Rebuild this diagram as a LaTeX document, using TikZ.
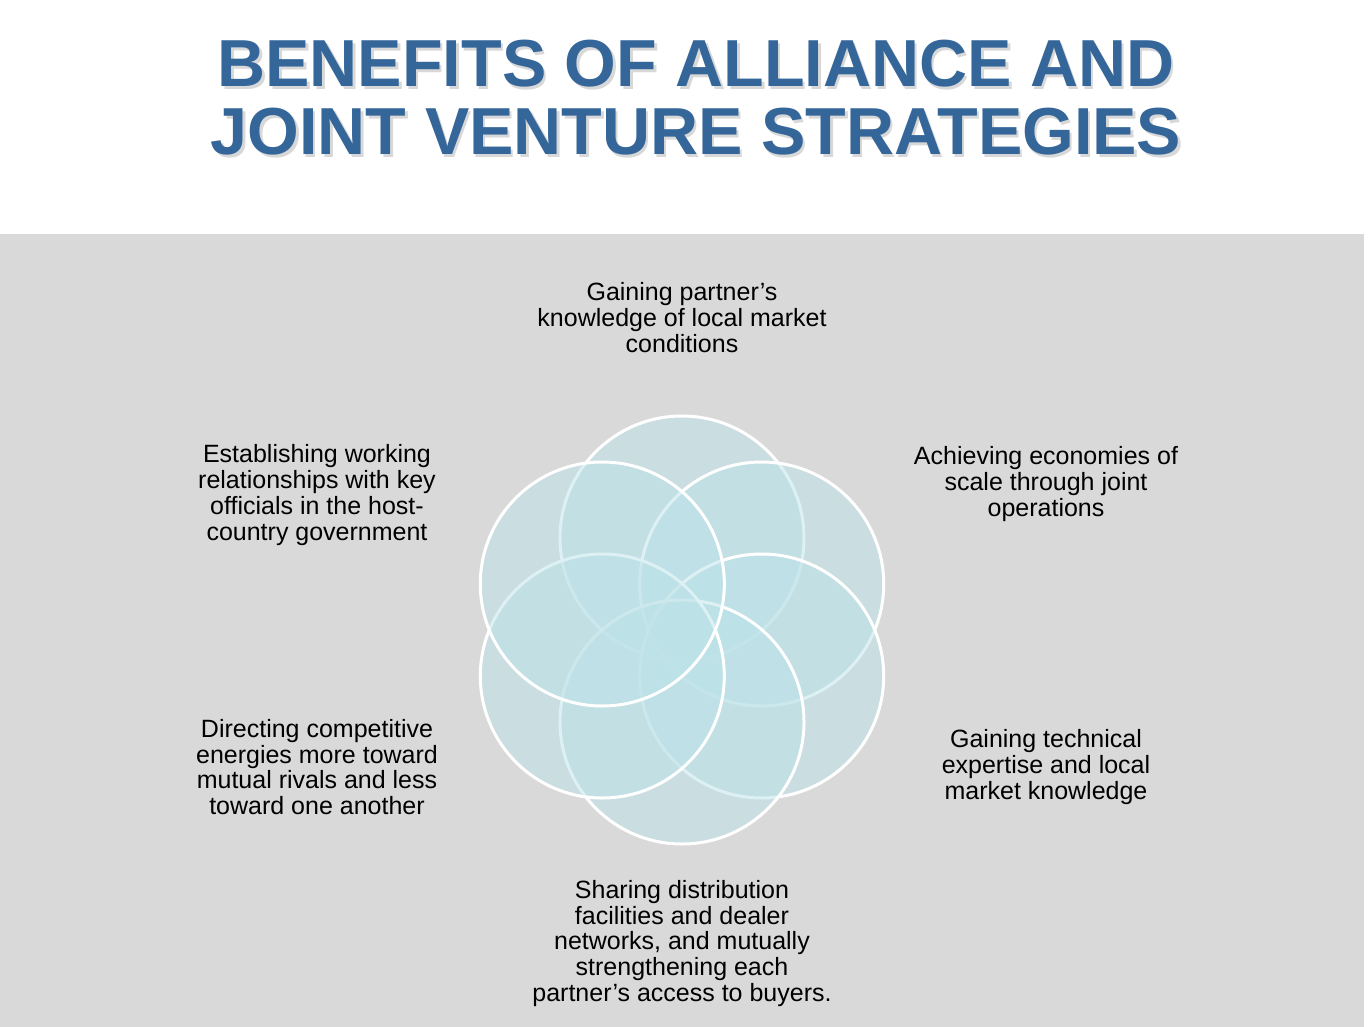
\documentclass[tikz,border=0pt]{standalone}
\usepackage{fontspec}
\setmainfont{Liberation Sans}
\definecolor{titleblue}{RGB}{52,102,153}
\definecolor{panelgray}{RGB}{217,217,217}
\definecolor{vennfill}{RGB}{188,226,232}
\tikzset{
  venn/.style={circle, minimum size=244pt, inner sep=0pt, fill=vennfill, fill opacity=0.5, draw=white, draw opacity=1, line width=3pt},
  label/.style={align=center, inner sep=0pt, text=black, font=\fontsize{25}{25.8}\selectfont},
  ttl/.style={anchor=base, inner sep=0pt, text=titleblue, font=\fontsize{66.5}{68}\selectfont\bfseries},
  ttlshadow/.style={anchor=base, inner sep=0pt, text=black!50, text opacity=0.3, font=\fontsize{66.5}{68}\selectfont\bfseries}
}
\begin{document}
\begin{tikzpicture}[x=1pt,y=-1pt]
\useasboundingbox (0,0) rectangle (1370,1027);
\fill[white] (0,0) rectangle (1370,1027);
\fill[panelgray] (0,234) rectangle (1364,1027);
% title
\node[ttlshadow] (t1s) at (698.5,89.5) {BENEFITS OF ALLIANCE AND};
\node[ttlshadow] (t2s) at (698.5,157.5) {JOINT VENTURE STRATEGIES};
\node[ttl] (t1) at (696,87) {BENEFITS OF ALLIANCE AND};
\node[ttl] (t2) at (696,155) {JOINT VENTURE STRATEGIES};
% circles
\node[venn] (c1) at (682,538) {};
\node[venn] (c2) at (761.7,584) {};
\node[venn] (c3) at (761.7,676) {};
\node[venn] (c4) at (682,722) {};
\node[venn] (c5) at (602.3,676) {};
\node[venn] (c6) at (602.3,584) {};
% labels
\node[label] (l1) at (682,317.5) {Gaining partner’s\\knowledge of local market\\conditions};
\node[label] (l2) at (1046,484) {Achieving economies of\\scale through joint\\operations};
\node[label] (l3) at (1046,767) {Gaining technical\\expertise and local\\market knowledge};
\node[label] (l4) at (682,943.5) {Sharing distribution\\facilities and dealer\\networks, and mutually\\strengthening each\\partner’s access to buyers.};
\node[label] (l5) at (317,767) {Directing competitive\\energies more toward\\mutual rivals and less\\toward one another};
\node[label] (l6) at (317,495) {Establishing working\\relationships with key\\officials in the host-\\country government};
\end{tikzpicture}
\end{document}
